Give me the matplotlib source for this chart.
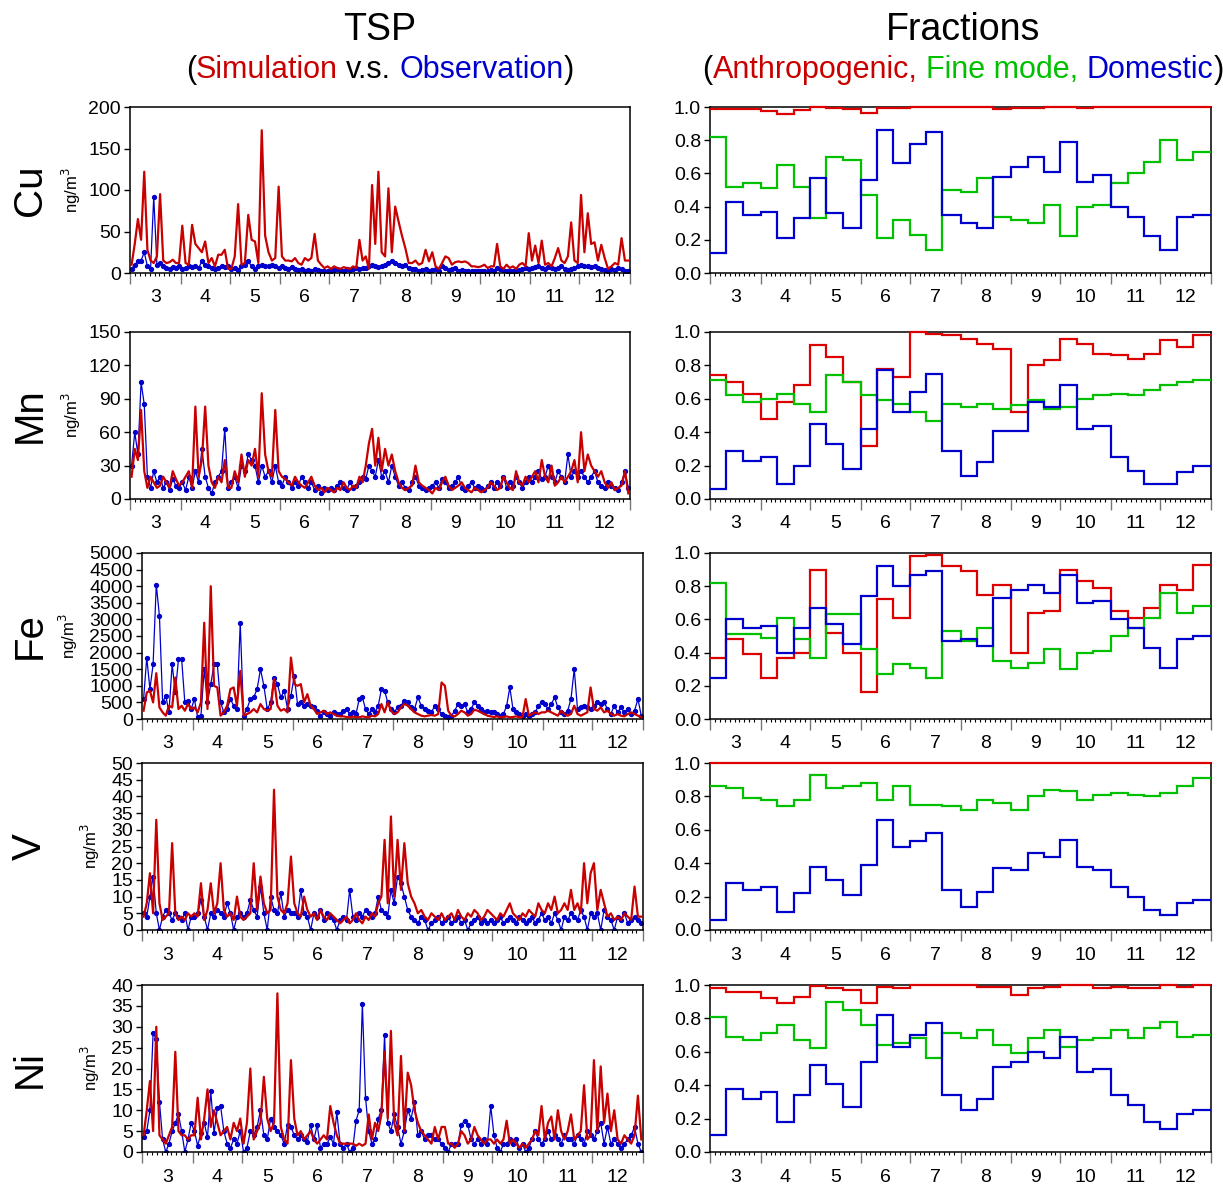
import matplotlib
matplotlib.use("Agg")
import matplotlib.pyplot as plt
import numpy as np

plt.rcParams['font.family'] = ['Liberation Sans', 'DejaVu Sans']

# months shown (Mar..Dec) and their first day counted from 1 March
MONTHS = [3, 4, 5, 6, 7, 8, 9, 10, 11, 12]
MONTH_START = [0, 31, 61, 92, 122, 153, 184, 214, 245, 275]
N_DAYS = 306

ELEMENTS = ["Cu", "Mn", "Fe", "V", "Ni"]

# ---- TSP concentrations (ng/m3), one list per month, ~2-day samples ----
cu_sim = [
    [10, 35, 65, 40, 122, 28, 15, 12, 20, 95, 15, 12, 13, 16, 12, 12],
    [57, 12, 10, 58, 35, 30, 25, 38, 12, 18, 8, 22, 22, 28, 5],
    [5, 20, 83, 10, 12, 70, 40, 38, 12, 172, 45, 25, 15, 18, 104],
    [20, 15, 15, 14, 18, 12, 10, 18, 15, 18, 47, 15, 10, 6, 8],
    [5, 8, 6, 5, 7, 6, 5, 8, 6, 40, 15, 20, 5, 106, 35, 122],
    [25, 20, 102, 25, 80, 62, 45, 30, 12, 12, 15, 10, 12, 28, 14],
    [25, 8, 5, 12, 20, 18, 10, 13, 14, 13, 14, 12, 8, 8, 7],
    [8, 10, 6, 8, 8, 35, 8, 5, 10, 6, 8, 5, 10, 12, 8, 48],
    [15, 33, 12, 39, 10, 12, 8, 18, 30, 15, 12, 20, 61, 15, 12],
    [94, 25, 72, 35, 37, 15, 34, 18, 5, 8, 12, 10, 42, 15, 15],
]
cu_obs = [
    [5, 10, 14, 15, 25, 8, 5, 92, 10, 12, 8, 6, 5, 7, 6, 8],
    [5, 6, 8, 7, 8, 6, 14, 10, 8, 6, 5, 6, 8, 7, 8],
    [5, 6, 4, 8, 10, 14, 8, 5, 8, 10, 8, 9, 10, 8, 6],
    [8, 6, 5, 7, 5, 4, 5, 3, 4, 3, 5, 4, 3, 3, 2],
    [3, 4, 5, 4, 3, 5, 4, 5, 6, 5, 6, 6, 8, 10, 8, 7],
    [8, 10, 12, 15, 12, 10, 8, 10, 6, 5, 5, 3, 4, 5, 3],
    [4, 5, 3, 8, 6, 4, 5, 6, 3, 4, 3, 2, 3, 2, 3],
    [3, 2, 3, 4, 3, 6, 5, 4, 3, 3, 2, 3, 4, 5, 6, 5],
    [6, 7, 8, 6, 5, 7, 6, 5, 6, 8, 5, 4, 5, 6, 8],
    [10, 8, 9, 7, 8, 6, 5, 4, 3, 5, 4, 6, 5, 3, 2],
]
mn_sim = [
    [20, 45, 35, 80, 25, 10, 20, 15, 10, 12, 20, 15, 10, 25, 18, 12],
    [15, 20, 25, 10, 83, 20, 35, 83, 30, 15, 10, 20, 15, 35, 10],
    [10, 25, 15, 40, 20, 35, 30, 45, 20, 95, 40, 25, 20, 80, 25],
    [20, 18, 15, 12, 20, 15, 12, 10, 15, 20, 12, 8, 10, 6, 10],
    [8, 6, 10, 8, 15, 10, 8, 12, 10, 20, 15, 30, 50, 63, 30, 55],
    [25, 45, 30, 40, 25, 15, 10, 8, 10, 12, 30, 15, 12, 10, 8],
    [5, 10, 8, 15, 20, 12, 8, 10, 12, 15, 10, 8, 6, 10, 8],
    [6, 8, 10, 15, 12, 8, 10, 20, 15, 10, 8, 25, 15, 12, 20, 15],
    [20, 25, 15, 35, 20, 15, 30, 12, 15, 20, 15, 20, 25, 35, 15],
    [60, 25, 40, 30, 25, 20, 25, 15, 10, 15, 8, 10, 12, 25, 5],
]
mn_obs = [
    [30, 60, 40, 105, 85, 20, 10, 25, 15, 20, 10, 15, 8, 18, 12, 10],
    [15, 8, 20, 10, 25, 15, 45, 20, 10, 5, 15, 20, 25, 63, 10],
    [15, 20, 10, 30, 25, 40, 35, 30, 15, 30, 20, 25, 15, 30, 15],
    [12, 20, 15, 10, 15, 12, 20, 15, 10, 15, 8, 12, 5, 10, 8],
    [10, 8, 12, 15, 10, 8, 15, 10, 12, 15, 20, 18, 30, 25, 20, 35],
    [20, 25, 15, 30, 20, 12, 15, 10, 8, 15, 20, 12, 10, 8, 10],
    [12, 15, 10, 18, 15, 10, 12, 15, 20, 10, 8, 12, 15, 10, 12],
    [10, 8, 12, 15, 10, 15, 12, 20, 10, 15, 12, 20, 15, 10, 15, 20],
    [15, 20, 25, 18, 20, 30, 20, 15, 25, 20, 15, 40, 20, 25, 20],
    [25, 20, 15, 20, 25, 15, 12, 10, 15, 12, 10, 8, 15, 25, 10],
]
fe_sim = [
    [250, 800, 850, 500, 1380, 350, 200, 100, 400, 350, 1250, 300, 400, 250, 450, 300],
    [350, 200, 500, 2900, 300, 4000, 1000, 950, 100, 200, 400, 900, 950, 400, 1450],
    [100, 150, 200, 300, 200, 450, 300, 250, 300, 1200, 400, 250, 300, 200, 1850],
    [1050, 1000, 1050, 500, 750, 400, 300, 150, 200, 250, 150, 200, 150, 100, 80],
    [80, 60, 50, 70, 60, 50, 80, 60, 50, 100, 80, 150, 450, 200, 500, 250],
    [150, 200, 350, 450, 400, 300, 200, 150, 100, 80, 100, 120, 100, 150, 1100],
    [1000, 250, 100, 80, 150, 250, 200, 100, 150, 280, 250, 200, 150, 100, 80],
    [60, 80, 50, 60, 80, 50, 60, 80, 50, 60, 600, 100, 150, 200, 150, 200],
    [200, 250, 200, 150, 100, 250, 150, 100, 150, 400, 150, 100, 150, 200, 950],
    [300, 250, 350, 200, 250, 150, 100, 150, 100, 80, 150, 200, 150, 100, 50],
]
fe_obs = [
    [600, 1850, 900, 1650, 4050, 3100, 500, 700, 200, 1650, 800, 1800, 1800, 500, 550, 300],
    [600, 50, 100, 1500, 500, 1050, 1650, 1650, 500, 200, 300, 600, 400, 300, 2900],
    [100, 300, 600, 650, 900, 1500, 1000, 300, 500, 1250, 1050, 650, 850, 300, 700],
    [1300, 450, 500, 400, 450, 400, 350, 250, 100, 200, 150, 100, 200, 150, 150],
    [250, 300, 150, 200, 150, 600, 650, 300, 150, 300, 200, 400, 900, 850, 500, 300],
    [200, 350, 400, 550, 500, 350, 300, 650, 400, 300, 250, 200, 400, 300, 150],
    [100, 50, 100, 250, 450, 400, 450, 200, 300, 500, 400, 300, 200, 250, 200],
    [200, 150, 100, 150, 400, 950, 300, 200, 150, 100, 150, 100, 150, 200, 400, 500],
    [450, 300, 450, 650, 350, 200, 150, 250, 600, 1500, 300, 350, 400, 350, 300],
    [400, 500, 450, 500, 300, 150, 400, 200, 350, 200, 300, 150, 250, 600, 100],
]
v_sim = [
    [4, 8, 17, 5, 33, 8, 3, 4, 5, 26, 5, 3, 4, 3, 5, 4],
    [5, 4, 14, 3, 6, 14, 5, 8, 20, 6, 4, 5, 3, 10, 4],
    [3, 4, 5, 20, 6, 16, 8, 5, 6, 42, 10, 6, 5, 8, 22],
    [8, 5, 4, 10, 6, 4, 5, 3, 6, 4, 3, 5, 4, 3, 2],
    [3, 4, 2, 3, 5, 3, 2, 4, 3, 5, 4, 8, 10, 27, 8, 34],
    [10, 27, 12, 26, 14, 10, 8, 5, 6, 4, 3, 5, 4, 3, 5],
    [3, 4, 5, 3, 6, 4, 3, 5, 4, 6, 5, 3, 4, 6, 5],
    [4, 3, 5, 4, 6, 8, 5, 4, 3, 5, 4, 6, 5, 4, 8, 6],
    [5, 8, 6, 10, 5, 6, 8, 6, 12, 6, 8, 5, 20, 8, 17],
    [20, 6, 12, 8, 4, 5, 3, 4, 3, 5, 4, 3, 13, 4, 4],
]
v_obs = [
    [5, 4, 10, 16, 5, 0, 4, 6, 5, 3, 5, 4, 3, 5, 0, 4],
    [4, 5, 9, 4, 0, 5, 4, 6, 5, 4, 8, 5, 0, 4, 5],
    [4, 5, 9, 6, 4, 13, 5, 0, 10, 6, 5, 11, 4, 6, 5],
    [5, 4, 12, 5, 4, 0, 5, 4, 6, 3, 5, 4, 3, 0, 3],
    [4, 3, 12, 4, 3, 5, 4, 6, 5, 4, 5, 10, 6, 5, 4, 12],
    [8, 16, 14, 10, 6, 4, 3, 2, 4, 3, 0, 2, 3, 4, 2],
    [3, 4, 2, 3, 4, 2, 3, 0, 2, 3, 4, 2, 3, 2, 3],
    [2, 3, 4, 2, 3, 4, 3, 2, 4, 3, 2, 3, 4, 2, 3, 5],
    [3, 4, 2, 5, 3, 0, 4, 3, 5, 4, 3, 6, 4, 0, 5],
    [4, 5, 0, 6, 4, 3, 0, 4, 3, 5, 2, 3, 4, 3, 2],
]
ni_sim = [
    [4, 10, 17, 5, 30, 4, 3, 2, 4, 6, 24, 5, 4, 4, 3, 4],
    [4, 13, 3, 8, 15, 6, 10, 7, 4, 5, 6, 3, 7, 5, 8],
    [2, 7, 20, 3, 5, 7, 18, 8, 5, 7, 38, 6, 3, 2, 22],
    [8, 4, 5, 3, 4, 5, 3, 2, 3, 4, 3, 11, 7, 4, 2],
    [2, 2, 2, 2, 1.5, 2, 1.5, 2, 9, 3, 7, 5, 9, 24, 8, 29],
    [7, 4, 23, 5, 19, 16, 10, 7, 5, 4, 3, 2, 6, 3, 6],
    [6, 2, 2, 1, 2, 5, 4, 2, 3, 6, 4, 3, 2, 3, 3],
    [2, 3, 2, 3, 7.5, 2, 3, 2, 1, 2, 1, 2, 3, 5, 4, 11],
    [3, 7, 8.5, 3, 10, 5, 3, 5, 9, 3, 4, 5, 16, 3, 4],
    [22, 5, 20.5, 7, 14, 5, 10, 3, 2, 4, 3, 2, 4, 13.5, 3],
]
ni_obs = [
    [3.5, 5, 10, 28.5, 27, 12, 3, 0, 2, 5, 7, 9, 5, 0, 3, 7],
    [5, 1.5, 4.5, 7, 3.5, 14.5, 4.5, 10.5, 11, 5, 2, 1, 3, 2, 5],
    [0, 1, 5, 4, 6, 10, 4, 3, 8, 6, 5, 4, 2, 6.5, 6],
    [4, 3, 4, 3, 2.5, 6.5, 3, 6.5, 1, 2, 2, 3.5, 2, 9.5, 2],
    [1, 2, 0, 1, 7.5, 10, 35.5, 13, 5, 2, 3, 8, 10, 28, 7, 5],
    [9, 6, 2, 5, 10, 8, 12, 4, 5, 3, 4, 4, 3, 3, 2],
    [1, 0, 2, 2, 2, 6.5, 7.5, 6.5, 3, 2, 3, 2, 3, 2, 11],
    [4, 1, 0, 2, 2, 3, 2, 3, 1, 2, 0, 1, 3, 5, 3, 2],
    [3, 5, 3, 4, 3, 2, 4, 3, 3, 2, 4, 3, 2, 5, 4],
    [3, 5, 7, 2, 6, 2, 3, 2, 1, 2, 3, 4, 6, 2, 0],
]

# y-axis ranges of the TSP panels
tsp_ymax = [200, 150, 5000, 50, 40]
tsp_ystep = [50, 30, 500, 5, 5]

# ---- fractions, one value per dekad (3 per month) ----
cu_anth = [0.99, 0.99, 0.985, 0.975, 0.96, 0.98, 1.0, 0.995, 0.99, 0.965,
           0.995, 0.995, 1.0, 1.0, 1.0, 1.0, 0.998, 0.985, 0.995, 0.995,
           1.0, 0.998, 0.995, 0.998, 0.998, 0.998, 0.998, 1.0, 1.0, 1.0]
cu_fine = [0.82, 0.52, 0.54, 0.51, 0.65, 0.52, 0.33, 0.70, 0.68, 0.47,
           0.21, 0.32, 0.23, 0.14, 0.50, 0.49, 0.57, 0.34, 0.32, 0.30,
           0.41, 0.22, 0.40, 0.41, 0.54, 0.60, 0.67, 0.80, 0.68, 0.73]
cu_dom = [0.12, 0.43, 0.35, 0.37, 0.21, 0.33, 0.57, 0.36, 0.27, 0.56,
          0.86, 0.66, 0.78, 0.85, 0.35, 0.30, 0.27, 0.58, 0.64, 0.70,
          0.61, 0.79, 0.55, 0.59, 0.40, 0.34, 0.22, 0.14, 0.34, 0.35]
mn_anth = [0.74, 0.70, 0.63, 0.48, 0.58, 0.68, 0.92, 0.85, 0.70, 0.32,
           0.78, 0.73, 1.0, 0.99, 0.98, 0.96, 0.93, 0.90, 0.52, 0.80,
           0.83, 0.96, 0.93, 0.87, 0.86, 0.84, 0.87, 0.95, 0.91, 0.98]
mn_fine = [0.71, 0.62, 0.58, 0.60, 0.63, 0.57, 0.52, 0.74, 0.70, 0.62,
           0.59, 0.57, 0.52, 0.47, 0.57, 0.55, 0.57, 0.54, 0.56, 0.59,
           0.54, 0.55, 0.60, 0.62, 0.63, 0.62, 0.65, 0.68, 0.70, 0.71]
mn_dom = [0.06, 0.29, 0.23, 0.25, 0.09, 0.20, 0.45, 0.33, 0.18, 0.42,
          0.77, 0.52, 0.64, 0.75, 0.29, 0.14, 0.22, 0.41, 0.41, 0.58,
          0.55, 0.68, 0.42, 0.44, 0.25, 0.17, 0.09, 0.09, 0.16, 0.20]
fe_anth = [0.37, 0.48, 0.39, 0.25, 0.37, 0.40, 0.90, 0.52, 0.40, 0.16,
           0.72, 0.61, 0.98, 0.99, 0.92, 0.89, 0.75, 0.81, 0.40, 0.64,
           0.65, 0.90, 0.83, 0.79, 0.65, 0.61, 0.67, 0.81, 0.78, 0.93]
fe_fine = [0.82, 0.51, 0.51, 0.49, 0.61, 0.48, 0.37, 0.63, 0.63, 0.42,
           0.27, 0.33, 0.31, 0.25, 0.53, 0.47, 0.55, 0.35, 0.31, 0.34,
           0.42, 0.30, 0.40, 0.41, 0.50, 0.55, 0.61, 0.76, 0.64, 0.68]
fe_dom = [0.25, 0.60, 0.55, 0.56, 0.40, 0.55, 0.67, 0.57, 0.45, 0.74,
          0.92, 0.80, 0.87, 0.89, 0.47, 0.48, 0.44, 0.73, 0.78, 0.81,
          0.76, 0.87, 0.70, 0.71, 0.60, 0.55, 0.43, 0.31, 0.48, 0.50]
v_anth = [1.0] * 30
v_fine = [0.86, 0.85, 0.79, 0.78, 0.74, 0.78, 0.93, 0.85, 0.86, 0.88,
          0.78, 0.86, 0.75, 0.75, 0.74, 0.72, 0.78, 0.76, 0.72, 0.80,
          0.84, 0.83, 0.78, 0.81, 0.82, 0.81, 0.80, 0.82, 0.86, 0.91]
v_dom = [0.06, 0.28, 0.24, 0.26, 0.11, 0.22, 0.38, 0.30, 0.21, 0.39,
         0.66, 0.50, 0.53, 0.58, 0.24, 0.14, 0.23, 0.37, 0.36, 0.46,
         0.44, 0.54, 0.38, 0.36, 0.26, 0.20, 0.12, 0.09, 0.16, 0.18]
ni_anth = [0.98, 0.96, 0.96, 0.92, 0.89, 0.93, 0.995, 0.98, 0.97, 0.89,
           0.99, 0.98, 1.0, 1.0, 1.0, 1.0, 0.99, 0.99, 0.94, 0.98,
           0.99, 1.0, 1.0, 0.985, 0.99, 0.985, 0.985, 1.0, 0.99, 1.0]
ni_fine = [0.81, 0.69, 0.67, 0.71, 0.76, 0.67, 0.62, 0.90, 0.85, 0.76,
           0.64, 0.65, 0.68, 0.56, 0.71, 0.68, 0.73, 0.64, 0.59, 0.68,
           0.73, 0.63, 0.67, 0.68, 0.73, 0.68, 0.74, 0.78, 0.69, 0.70]
ni_dom = [0.10, 0.38, 0.32, 0.36, 0.18, 0.34, 0.52, 0.41, 0.27, 0.54,
          0.82, 0.63, 0.70, 0.77, 0.34, 0.25, 0.32, 0.51, 0.54, 0.60,
          0.56, 0.69, 0.48, 0.50, 0.34, 0.28, 0.18, 0.14, 0.23, 0.25]

sims = [cu_sim, mn_sim, fe_sim, v_sim, ni_sim]
obss = [cu_obs, mn_obs, fe_obs, v_obs, ni_obs]
anths = [cu_anth, mn_anth, fe_anth, v_anth, ni_anth]
fines = [cu_fine, mn_fine, fe_fine, v_fine, ni_fine]
doms = [cu_dom, mn_dom, fe_dom, v_dom, ni_dom]

RED = "#C80000"
RED2 = "#DD0000"
GREEN = "#00C000"
BLUE = "#0000CC"

W, H = 1223, 1184
fig = plt.figure(figsize=(W / 100, H / 100), dpi=100)


def month_series(monthly):
    xs, ys = [], []
    ends = MONTH_START[1:] + [N_DAYS]
    for m, vals in enumerate(monthly):
        n = len(vals)
        span = ends[m] - MONTH_START[m]
        for k, v in enumerate(vals):
            xs.append(MONTH_START[m] + (k + 0.5) * span / n)
            ys.append(v)
    return np.array(xs), np.array(ys)


def dekad_edges():
    edges = []
    for s in MONTH_START:
        edges += [s, s + 10, s + 20]
    return np.array(edges + [N_DAYS])


def style_time_axis(ax):
    ends = MONTH_START[1:] + [N_DAYS]
    ax.set_xlim(0, N_DAYS)
    ax.set_xticks(MONTH_START + [N_DAYS])
    ax.set_xticklabels([])
    minor = []
    for s, e in zip(MONTH_START, ends):
        minor += list(range(s + 3, e - 1, 3))
    ax.set_xticks(minor, minor=True)
    ax.tick_params(axis="x", which="major", direction="out", length=8,
                   width=1.0, color="#777777")
    ax.tick_params(axis="x", which="minor", direction="out", length=2.5,
                   width=0.8)
    ax.tick_params(axis="y", which="major", direction="out", length=4.5,
                   width=1.0, labelsize=14, pad=2)
    ax.tick_params(top=False, right=False)
    for s, e, m in zip(MONTH_START, ends, MONTHS):
        ax.annotate(str(m), xy=((s + e) / 2, 0), xycoords=("data", "axes fraction"),
                    xytext=(0, -18), textcoords="offset points",
                    ha="center", va="center", fontsize=14)
    for sp in ax.spines.values():
        sp.set_linewidth(1.1)


def fig_axes(x0, x1, top, bottom):
    return fig.add_axes([x0 / W, 1 - bottom / H, (x1 - x0) / W, (bottom - top) / H])


tops = [107, 332, 553, 763, 985]
bottoms = [273, 499, 719, 930, 1152]
left_x = [(130, 630), (130, 630), (142, 643), (142, 643), (142, 643)]
unit_x = [71, 71, 68, 90, 90]

for i, el in enumerate(ELEMENTS):
    ax = fig_axes(left_x[i][0], left_x[i][1], tops[i], bottoms[i])
    xo, yo = month_series(obss[i])
    xs, ys = month_series(sims[i])
    ax.plot(xo, yo, color=BLUE, lw=0.9, marker="o", ms=2.8, mec=BLUE, zorder=2)
    ax.plot(xs, ys, color=RED, lw=1.6, zorder=3)
    ax.set_ylim(0, tsp_ymax[i])
    ax.set_yticks(np.arange(0, tsp_ymax[i] + 1e-9, tsp_ystep[i]))
    style_time_axis(ax)

    fig.text(30 / W, 1 - (tops[i] + bottoms[i]) / 2 / H, el, rotation=90,
             ha="center", va="center", fontsize=29)
    fig.text(unit_x[i] / W, 1 - (tops[i] + bottoms[i]) / 2 / H, "ng/m$^3$",
             rotation=90, ha="center", va="center", fontsize=12)

    axr = fig_axes(710, 1211, tops[i], bottoms[i])
    edges = dekad_edges()
    for vals, col in [(anths[i], RED2), (fines[i], GREEN), (doms[i], BLUE)]:
        axr.stairs(vals, edges, color=col, lw=1.6, baseline=None,
                   clip_on=False, zorder=3)
    axr.set_ylim(0, 1)
    axr.set_yticks(np.arange(0, 1.01, 0.2))
    axr.set_yticklabels([f"{v:.1f}" for v in np.arange(0, 1.01, 0.2)])
    style_time_axis(axr)


def colored_line(xc, yc, parts, size):
    """Write text pieces of different colours side by side, centred at xc."""
    r = fig.canvas.get_renderer()
    probe1 = fig.text(0, 0, "x x", fontsize=size)
    probe2 = fig.text(0, 0, "xx", fontsize=size)
    space = probe1.get_window_extent(r).width - probe2.get_window_extent(r).width
    probe1.remove()
    probe2.remove()
    items = []
    for s, c, gap in parts:
        t = fig.text(0, 1 - yc / H, s, color=c, fontsize=size, ha="left", va="center")
        items.append((t, t.get_window_extent(r).width, gap * space))
    total = sum(w + g for _, w, g in items)
    x = xc - total / 2
    for t, w, g in items:
        x += g
        t.set_x(x / W)
        x += w


fig.text(380 / W, 1 - 30 / H, "TSP", ha="center", va="center", fontsize=27)
fig.text(963 / W, 1 - 30 / H, "Fractions", ha="center", va="center", fontsize=27)
colored_line(380, 70, [("(", "black", 0), ("Simulation", RED, 0),
                       ("v.s.", "black", 1), ("Observation", BLUE, 1),
                       (")", "black", 0)], 22)
colored_line(963, 70, [("(", "black", 0), ("Anthropogenic,", RED, 0),
                       ("Fine mode,", GREEN, 1), ("Domestic", BLUE, 1),
                       (")", "black", 0)], 22)

fig.savefig("out.png", dpi=100)
